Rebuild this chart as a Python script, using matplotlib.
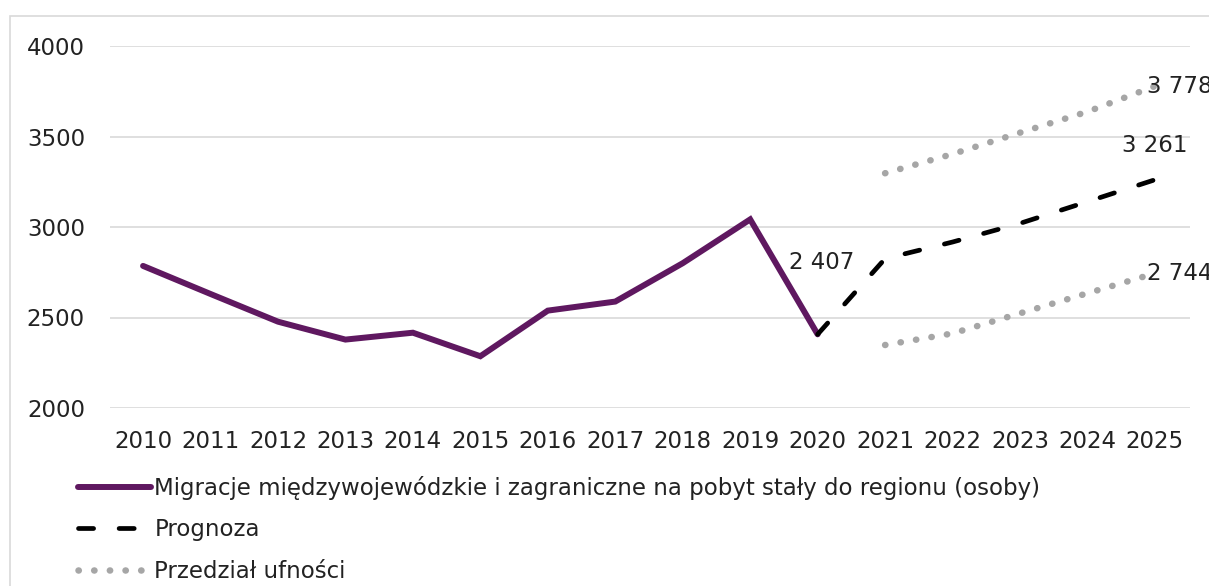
import matplotlib.pyplot as plt
from matplotlib.patches import Rectangle

# dane
lata = list(range(2010, 2026))
lata_hist = list(range(2010, 2021))
migracje = [2785, 2630, 2477, 2378, 2416, 2286, 2538, 2588, 2800, 3042, 2407]
lata_prog = list(range(2020, 2026))
prognoza = [2407, 2825, 2917, 3020, 3140, 3261]
lata_przedz = list(range(2021, 2026))
gorny = [3297, 3403, 3521, 3637, 3778]
dolny = [2348, 2412, 2523, 2634, 2744]

etykiety = [
    (2020, 2407, '2 407', (3, 52), 'center'),
    (2025, 3261, '3 261', (0, 25), 'center'),
    (2025, 3778, '3 778', (-6, 0), 'left'),
    (2025, 2744, '2 744', (-6, 0), 'left'),
]

fioletowy = '#5F1860'
szary = '#A6A6A6'
siatka = '#D9D9D9'

plt.rcParams['font.family'] = 'DejaVu Sans'
plt.rcParams['font.size'] = 16.5

fig = plt.figure(figsize=(12.09, 5.86), dpi=100)
ax = fig.add_axes([110 / 1209, 1 - 408 / 586, 1080 / 1209, 362 / 586])

# ramka wykresu
fig.patches.append(Rectangle((10 / 1209, -0.1), 1.2, 1 - 16 / 586 + 0.1,
                             transform=fig.transFigure, fill=False,
                             edgecolor=siatka, lw=1.2))

ax.plot(lata_hist, migracje, color=fioletowy, lw=4.3,
        solid_capstyle='round', solid_joinstyle='miter',
        label='Migracje międzywojewódzkie i zagraniczne na pobyt stały do regionu (osoby)')
ax.plot(lata_prog, prognoza, color='black', lw=3.4, dashes=(3.2, 5.4),
        dash_capstyle='round', label='Prognoza')
ax.plot(lata_przedz, gorny, color=szary, lw=4.7, dashes=(0.05, 2.35),
        dash_capstyle='round', label='Przedział ufności')
ax.plot(lata_przedz, dolny, color=szary, lw=4.7, dashes=(0.05, 2.35),
        dash_capstyle='round')

for x, y, t, off, ha in etykiety:
    ax.annotate(t, (x, y), xytext=off, textcoords='offset points',
                ha=ha, va='center', color='#222222', annotation_clip=False)

ax.set_xlim(2009.51, 2025.52)
ax.set_ylim(2000, 4000)
ax.set_xticks(lata)
ax.set_yticks([2000, 2500, 3000, 3500, 4000])
ax.grid(axis='y', color=siatka, lw=1.2)
ax.set_axisbelow(True)
for s in ax.spines.values():
    s.set_visible(False)
ax.tick_params(length=0, colors='#222222')
ax.tick_params(axis='x', pad=16)
ax.tick_params(axis='y', pad=18)

leg = fig.legend(loc='upper left', bbox_to_anchor=(78 / 1209, 1 - 476 / 586),
                 frameon=False, handlelength=3.2, handletextpad=0.13,
                 labelspacing=0.8, borderaxespad=0, borderpad=0)
for t in leg.get_texts():
    t.set_color('#222222')

fig.savefig('out.png', dpi=100)
